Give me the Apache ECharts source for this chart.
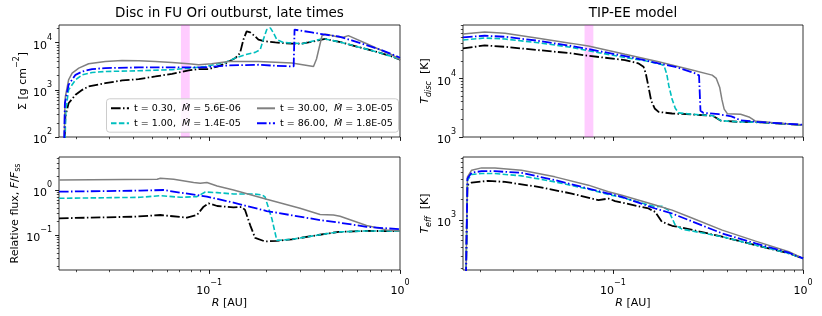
<!DOCTYPE html>
<html><head><meta charset="utf-8">
<script src="https://cdn.jsdelivr.net/npm/echarts@6/dist/echarts.min.js"></script>
<style>html,body{margin:0;padding:0;background:#fff}#c{width:822px;height:316px}</style>
</head><body><div id="c"></div>
<script>
const FONT = 'DejaVu Sans';
const SERIES_NAMES = ['t = 0.30,  Ṁ = 5.6E-06', 't = 1.00,  Ṁ = 1.4E-05', 't = 30.00,  Ṁ = 3.0E-05', 't = 86.00,  Ṁ = 1.8E-05'];
const TITLES = ['Disc in FU Ori outburst, late times', 'TIP-EE model'];
const BAND_R = [0.071, 0.079];

// tick values
const X_MAJOR = [0.1, 1];
const X_MINOR = [0.02,0.03,0.04,0.05,0.06,0.07,0.08,0.09,0.2,0.3,0.4,0.5,0.6,0.7,0.8,0.9];
const SIG_MAJOR = [100, 1000, 10000];
const SIG_MINOR = [200,300,400,500,600,700,800,900,2000,3000,4000,5000,6000,7000,8000,9000,20000];
const TD_MAJOR = [1000, 10000];
const TD_MINOR = [2000,3000,4000,5000,6000,7000,8000,9000,20000,30000,40000,50000,60000,70000,80000];
const FL_MAJOR = [0.1, 1];
const FL_MINOR = [0.02,0.03,0.04,0.05,0.06,0.07,0.08,0.09,0.2,0.3,0.4,0.5,0.6,0.7,0.8,0.9,2,3,4,5];
const TE_MAJOR = [1000];
const TE_MINOR = [200,300,400,500,600,700,800,900,2000,3000,4000,5000,6000,7000,8000];

// Surface density Sigma [g cm^-2] vs R [AU]
const sigma_t030 = [[0.01735,40],[0.0176,271],[0.0183,520],[0.0199,783],[0.0216,1000],[0.0233,1180],[0.0285,1390],[0.0349,1580],[0.0427,1690],[0.0522,1920],[0.0638,2190],[0.078,2580],[0.088,2750],[0.0991,2750],[0.110,3100],[0.121,3600],[0.137,4720],[0.145,6030],[0.151,11600],[0.157,17400],[0.164,16500],[0.174,13600],[0.181,11600],[0.196,10700],[0.222,10100],[0.271,9520],[0.306,9520],[0.331,10100],[0.373,11200],[0.405,12000],[0.495,10100],[0.605,8090],[0.74,6530],[0.905,5120],[1.0,4350]];
const sigma_t100 = [[0.01745,40],[0.0177,375],[0.0183,1000],[0.0199,1630],[0.0216,2080],[0.0243,2340],[0.0285,2450],[0.0427,2540],[0.0638,2670],[0.078,2890],[0.0953,3130],[0.121,3800],[0.137,4720],[0.154,5560],[0.174,6230],[0.185,7100],[0.192,11600],[0.200,18900],[0.209,20600],[0.217,16100],[0.226,11600],[0.245,10100],[0.271,9840],[0.306,9520],[0.345,10700],[0.389,12000],[0.405,12000],[0.495,10100],[0.605,8090],[0.74,6530],[0.905,5120],[1.0,4350]];
const sigma_t3000 = [[0.0173,40],[0.0175,441],[0.0176,720],[0.0183,1630],[0.0191,2270],[0.0207,2890],[0.0233,3570],[0.0285,4000],[0.0349,4200],[0.0427,4140],[0.0522,4000],[0.0638,3810],[0.078,3570],[0.088,3400],[0.103,3570],[0.126,4000],[0.181,4000],[0.271,3690],[0.352,3130],[0.365,4500],[0.39,14000],[0.405,15200],[0.475,13200],[0.505,13000],[0.536,14100],[0.656,9840],[0.77,7340],[0.905,5560],[1.0,4400]];
const sigma_t8600 = [[0.0173,40],[0.0175,520],[0.0183,1280],[0.0199,2080],[0.0216,2450],[0.0243,2750],[0.0285,2890],[0.0427,2990],[0.0638,2990],[0.0953,3000],[0.126,3300],[0.181,3400],[0.222,3240],[0.277,3130],[0.280,18900],[0.294,18300],[0.345,16500],[0.405,14800],[0.475,13600],[0.558,11200],[0.656,9060],[0.77,7340],[0.905,5740],[1.0,4800]];

// Disc midplane temperature T_disc [K]
const tdisc_t030 = [[0.0163,32600],[0.0212,36700],[0.0271,34700],[0.0405,30500],[0.0608,26800],[0.0744,24400],[0.116,20600],[0.136,18100],[0.145,15800],[0.149,12200],[0.154,7190],[0.159,4200],[0.166,3070],[0.174,2680],[0.205,2520],[0.261,2420],[0.307,2350],[0.336,2300],[0.37,1900],[0.45,1820],[0.6,1780],[1.0,1600]];
const tdisc_t100 = [[0.0163,45300],[0.0212,49000],[0.0271,47100],[0.0405,40700],[0.0608,33900],[0.0744,29700],[0.116,22800],[0.148,20000],[0.18,17300],[0.186,16500],[0.192,12000],[0.197,7500],[0.205,4400],[0.213,3100],[0.222,2580],[0.26,2450],[0.307,2350],[0.336,2300],[0.37,1900],[0.45,1820],[0.6,1780],[1.0,1600]];
const tdisc_t3000 = [[0.0163,57400],[0.0212,62100],[0.0271,58900],[0.0405,48400],[0.0608,39700],[0.0744,35700],[0.116,25800],[0.174,19300],[0.261,13900],[0.333,11400],[0.35,10000],[0.365,7000],[0.375,4300],[0.385,3000],[0.40,2500],[0.47,2450],[0.52,2200],[0.56,1880],[0.72,1740],[1.0,1600]];
const tdisc_t8600 = [[0.0163,50300],[0.0212,53600],[0.0271,51500],[0.0405,44000],[0.0608,35700],[0.0744,31700],[0.116,24100],[0.174,18100],[0.213,15800],[0.272,12200],[0.284,11300],[0.289,2800],[0.30,2580],[0.36,2450],[0.42,2250],[0.47,1930],[0.58,1810],[1.0,1620]];

// Relative flux F/F_ss
const flux_t030 = [[0.0163,0.235],[0.0402,0.255],[0.0554,0.278],[0.0764,0.243],[0.0862,0.278],[0.0934,0.426],[0.0991,0.506],[0.110,0.441],[0.134,0.41],[0.148,0.419],[0.154,0.36],[0.164,0.164],[0.174,0.086],[0.196,0.072],[0.226,0.074],[0.271,0.08],[0.373,0.1],[0.475,0.117],[0.656,0.123],[1.0,0.122]];
const flux_t100 = [[0.0163,0.653],[0.0435,0.687],[0.0554,0.748],[0.0705,0.687],[0.0862,0.711],[0.0953,0.9],[0.110,0.873],[0.134,0.815],[0.171,0.815],[0.189,0.78],[0.196,0.70],[0.213,0.23],[0.226,0.076],[0.271,0.08],[0.373,0.1],[0.475,0.117],[0.656,0.123],[1.0,0.122]];
const flux_t3000 = [[0.0163,1.67],[0.0533,1.73],[0.0554,1.82],[0.0651,1.73],[0.0828,1.46],[0.0897,1.41],[0.0972,1.46],[0.110,1.23],[0.134,1.0],[0.2,0.62],[0.299,0.392],[0.381,0.285],[0.448,0.278],[0.485,0.26],[0.668,0.163],[0.851,0.13],[1.0,0.122]];
const flux_t8600 = [[0.0163,0.918],[0.0435,0.966],[0.0576,1.0],[0.0705,0.873],[0.0862,0.774],[0.0972,0.711],[0.134,0.523],[0.2,0.341],[0.271,0.274],[0.381,0.215],[0.475,0.19],[0.668,0.152],[1.0,0.134]];

// Effective temperature T_eff [K]
const teff_t030 = [[0.0169,150],[0.0172,3250],[0.0181,3550],[0.0221,3760],[0.0271,3630],[0.0405,3070],[0.0608,2450],[0.084,1960],[0.0948,2070],[0.1028,1900],[0.154,1480],[0.167,1320],[0.181,946],[0.205,826],[0.251,738],[0.376,571],[0.563,431],[0.843,326],[1.0,275]];
const teff_t100 = [[0.0169,150],[0.0172,3850],[0.0181,4650],[0.0204,4810],[0.024,4810],[0.0331,4450],[0.0496,3630],[0.0744,2840],[0.0948,2370],[0.1115,2150],[0.167,1570],[0.181,1600],[0.196,1400],[0.213,845],[0.231,738],[0.376,571],[0.563,431],[0.843,326],[1.0,275]];
const teff_t3000 = [[0.0169,150],[0.0172,4300],[0.0181,5380],[0.0204,5820],[0.024,5820],[0.0331,5380],[0.0496,4300],[0.0744,3250],[0.0948,2600],[0.1115,2320],[0.167,1660],[0.205,1400],[0.251,1120],[0.376,714],[0.563,493],[0.843,344],[1.0,275]];
const teff_t8600 = [[0.0169,150],[0.0172,4070],[0.0181,4970],[0.0204,5200],[0.024,5200],[0.0331,4920],[0.0496,3850],[0.0744,2900],[0.0948,2450],[0.1115,2190],[0.167,1480],[0.205,1250],[0.251,1000],[0.376,638],[0.563,456],[0.843,333],[1.0,275]];

const COLORS = ['#000000', '#00bfbf', '#808080', '#0000ff'];
const DASHES = [[9.6,2.4,1.5,2.4], [5.5,2.4], 'solid', [9.6,2.4,1.5,2.4]];
const WIDTHS = [1.8, 1.6, 1.5, 1.8];

const TICK_RICH = {
  b: {fontSize: 11, fontFamily: FONT, color: '#000', lineHeight: 18, verticalAlign: 'bottom'},
  s: {fontSize: 8, fontFamily: FONT, color: '#000', lineHeight: 10, verticalAlign: 'top'}
};
function powLabel(v) {
  const e = Math.round(Math.log10(v));
  return '{b|10}{s|' + (e < 0 ? '\u2212' + (-e) : e) + '}';
}
const NAME_RICH = {
  n: {fontSize: 11, fontFamily: FONT, color: '#000', lineHeight: 12, verticalAlign: 'top'},
  i: {fontSize: 11, fontFamily: FONT, fontStyle: 'italic', color: '#000', lineHeight: 12, verticalAlign: 'top'},
  sub: {fontSize: 8, fontFamily: FONT, fontStyle: 'italic', color: '#000', lineHeight: 10, padding: [5,0,0,0], verticalAlign: 'top'},
  subr: {fontSize: 8, fontFamily: FONT, color: '#000', lineHeight: 10, padding: [5,0,0,0], verticalAlign: 'top'},
  sup: {fontSize: 8, fontFamily: FONT, color: '#000', lineHeight: 10, verticalAlign: 'top'},
  nb: {fontSize: 11, fontFamily: FONT, color: '#000', lineHeight: 16, verticalAlign: 'bottom'}
};

const GRIDS = [
  {left: 59, top: 25, width: 341, height: 112},
  {left: 463, top: 25, width: 340, height: 112},
  {left: 59, top: 157, width: 341, height: 113},
  {left: 463, top: 157, width: 340, height: 113}
];

function axisPair(dim, gi, min, max, major, minor, labels, name, nameGap) {
  const base = {type: 'log', logBase: 10, gridIndex: gi, min: min, max: max,
    position: dim === 'x' ? 'bottom' : 'left',
    axisLine: {show: false}, splitLine: {show: false}, minorTick: {show: false},
    minorSplitLine: {show: false}, silent: true};
  const main = Object.assign({}, base, {
    axisTick: {show: true, customValues: major, length: 3.9, lineStyle: {color: '#000', width: 0.9}},
    axisLabel: {show: labels, customValues: major, formatter: powLabel, rich: TICK_RICH,
      margin: dim === 'x' ? 9 : 7, color: '#000'}
  });
  if (name) {
    main.name = name;
    main.nameLocation = 'middle';
    main.nameGap = nameGap;
    main.nameRotate = dim === 'y' ? 90 : 0;
    main.nameTextStyle = {rich: NAME_RICH, fontSize: 11, fontFamily: FONT, color: '#000'};
  }
  const mn = Object.assign({}, base, {
    axisTick: {show: true, customValues: minor, length: 2.2, lineStyle: {color: '#000', width: 0.7}},
    axisLabel: {show: false}
  });
  return [main, mn];
}

const xAxes = [].concat(
  axisPair('x', 0, 0.0163, 1, X_MAJOR, X_MINOR, false),
  axisPair('x', 1, 0.0163, 1, X_MAJOR, X_MINOR, false),
  axisPair('x', 2, 0.0163, 1, X_MAJOR, X_MINOR, true, '{i|R}{n| [AU]}', 17),
  axisPair('x', 3, 0.0163, 1, X_MAJOR, X_MINOR, true, '{i|R}{n| [AU]}', 17)
);
const yAxes = [].concat(
  axisPair('y', 0, 100, 23700, SIG_MAJOR, SIG_MINOR, true, '{nb|\u03a3 [g cm}{sup|\u22122}{nb|]}', 30),
  axisPair('y', 1, 1000, 81800, TD_MAJOR, TD_MINOR, true, '{i|T}{sub|disc}{n|  [K]}', 30),
  axisPair('y', 2, 0.0167, 5.4, FL_MAJOR, FL_MINOR, true, '{n|Relative flux, }{i|F}{n|/}{i|F}{subr|ss}', 37),
  axisPair('y', 3, 186, 8400, TE_MAJOR, TE_MINOR, true, '{i|T}{sub|eff}{n|  [K]}', 31)
);

const PANEL_DATA = [
  [sigma_t030, sigma_t100, sigma_t3000, sigma_t8600],
  [tdisc_t030, tdisc_t100, tdisc_t3000, tdisc_t8600],
  [flux_t030, flux_t100, flux_t3000, flux_t8600],
  [teff_t030, teff_t100, teff_t3000, teff_t8600]
];

const series = [];
[0, 1].forEach(function (gi) {
  series.push({type: 'line', data: [], xAxisIndex: gi * 2, yAxisIndex: gi * 2, z: 1, silent: true,
    markArea: {silent: true, itemStyle: {color: 'rgba(255,0,255,0.2)'},
      data: [[{xAxis: BAND_R[0]}, {xAxis: BAND_R[1]}]]}});
});
PANEL_DATA.forEach(function (arrs, gi) {
  arrs.forEach(function (d, k) {
    series.push({type: 'line', name: SERIES_NAMES[k], data: d, xAxisIndex: gi * 2, yAxisIndex: gi * 2,
      symbol: 'none', showSymbol: false, smooth: false, z: 3, clip: true,
      itemStyle: {color: COLORS[k]},
      lineStyle: {color: COLORS[k], width: WIDTHS[k], type: DASHES[k]}});
  });
});

const legendText = {fontSize: 9.5, fontFamily: FONT, color: '#000', lineHeight: 12,
  rich: {m: {fontSize: 9.5, fontFamily: FONT, fontStyle: 'italic', color: '#000', lineHeight: 12}}};
function legendFmt(n) { return n.replace('Ṁ', '{m|Ṁ}'); }
const legendBase = {orient: 'vertical', top: 102.3, itemGap: 3, padding: 0, itemWidth: 18, itemHeight: 10,
  selectedMode: false, z: 20, formatter: legendFmt, textStyle: legendText,
  itemStyle: {opacity: 0, borderWidth: 0}};

const option = {
  animation: false,
  backgroundColor: '#fff',
  title: [
    {text: TITLES[0], left: 229.5, top: 6, textAlign: 'center', padding: 0,
      textStyle: {fontSize: 13.5, fontWeight: 'normal', fontFamily: FONT, color: '#000'}},
    {text: TITLES[1], left: 633, top: 6, textAlign: 'center', padding: 0,
      textStyle: {fontSize: 13.5, fontWeight: 'normal', fontFamily: FONT, color: '#000'}}
  ],
  grid: GRIDS.map(function (g) { return Object.assign({show: true, borderColor: '#000', borderWidth: 0.8,
    backgroundColor: 'transparent', containLabel: false, outerBoundsMode: 'none'}, g); }),
  xAxis: xAxes,
  yAxis: yAxes,
  legend: [
    Object.assign({data: [SERIES_NAMES[0], SERIES_NAMES[1]], left: 110}, legendBase),
    Object.assign({data: [SERIES_NAMES[2], SERIES_NAMES[3]], left: 256}, legendBase)
  ],
  graphic: [
    {type: 'rect', left: 106, top: 98.3, z: 10, silent: true,
      shape: {width: 292, height: 33.4, r: 3},
      style: {fill: 'rgba(255,255,255,0.8)', stroke: '#cccccc', lineWidth: 1}}
  ],
  series: series
};

const chart = echarts.init(document.getElementById('c'), null, {renderer: 'canvas'});
chart.setOption(option);
</script>
</body></html>
